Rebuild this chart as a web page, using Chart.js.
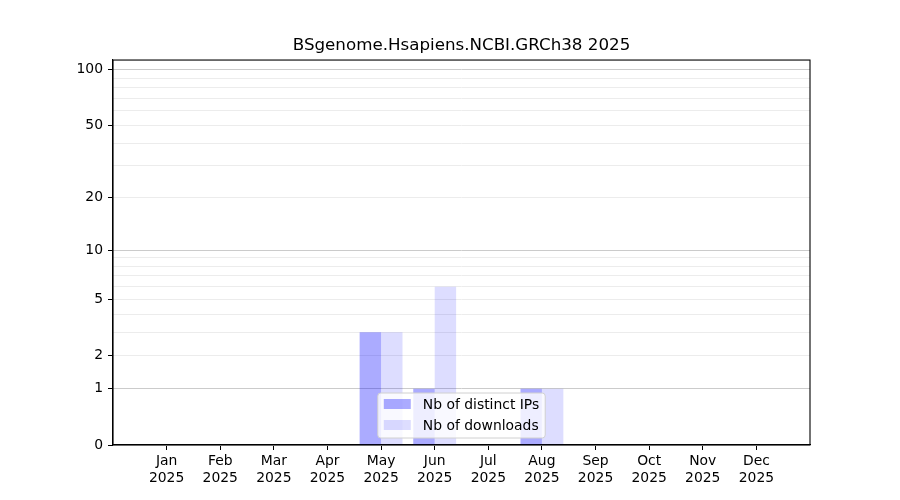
<!DOCTYPE html>
<html lang="en">
<head>
    <meta charset="UTF-8">
    <title>BSgenome.Hsapiens.NCBI.GRCh38 2025</title>
    <script src="https://cdn.jsdelivr.net/npm/chart.js"></script>
    <style>
        body {
            margin: 0;
            background: #fff;
        }
        #chartBox {
            width: 900px;
            height: 500px;
        }
    </style>
</head>
<body>
    <div id="chartBox">
        <canvas id="statsChart" width="900" height="500"></canvas>
    </div>

    <script>
        // Data
        const months = ['Jan', 'Feb', 'Mar', 'Apr', 'May', 'Jun', 'Jul', 'Aug', 'Sep', 'Oct', 'Nov', 'Dec'];
        const year = '2025';
        const distinctIps = [0, 0, 0, 0, 3, 1, 0, 1, 0, 0, 0, 0];
        const downloads = [0, 0, 0, 0, 3, 6, 0, 1, 0, 0, 0, 0];

        // Tick values on the y axis (log(1 + y) scale)
        const yTickValues = [0, 1, 2, 3, 4, 5, 6, 7, 8, 9, 10, 20, 30, 40, 50, 60, 70, 80, 90, 100];
        const yLabelled = [0, 1, 2, 5, 10, 20, 50, 100];
        const yMajorGrid = [1, 10, 100];
        const yMax = 113;

        const chartTitle = 'BSgenome.Hsapiens.NCBI.GRCh38 2025';
        const legendLabels = ['Nb of distinct IPs', 'Nb of downloads'];
        const barColors = ['rgba(0,0,255,0.33)', 'rgba(0,0,255,0.135)'];

        Chart.defaults.font.family = "'DejaVu Sans', sans-serif";
        Chart.defaults.color = '#000';

        // Scale showing log10(1 + y), like matplotlib's symlog axis here
        class Log1pScale extends Chart.LinearScale {
            buildTicks() {
                return yTickValues.map(v => ({ value: v }));
            }
            configure() {
                super.configure();
                this._tStart = Math.log10(this.min + 1);
                this._tRange = Math.log10(this.max + 1) - this._tStart;
            }
            getPixelForValue(value) {
                if (value === null || value === undefined || isNaN(value)) return NaN;
                return this.getPixelForDecimal((Math.log10(value + 1) - this._tStart) / this._tRange);
            }
            getValueForPixel(pixel) {
                return Math.pow(10, this._tStart + this.getDecimalForPixel(pixel) * this._tRange) - 1;
            }
        }
        Log1pScale.id = 'log1p';
        Log1pScale.defaults = {};
        Chart.register(Log1pScale);

        // Box around the plot area, and the legend inside it
        const framePlugin = {
            id: 'frame',
            afterDraw(chart) {
                const a = chart.chartArea;
                const c = chart.ctx;
                c.save();
                c.strokeStyle = '#000';
                c.lineWidth = 1.1;
                c.strokeRect(a.left, a.top, a.right - a.left, a.bottom - a.top);

                // legend, lower center
                c.font = "13.9px 'DejaVu Sans', sans-serif";
                const textW = Math.max(...legendLabels.map(t => c.measureText(t).width));
                const w = 6 + 27 + 12 + textW + 6;
                const h = 45;
                const x = (a.left + a.right) / 2 - w / 2;
                const y = a.bottom - 7 - h;
                c.beginPath();
                c.roundRect(x, y, w, h, 3);
                c.fillStyle = 'rgba(255,255,255,0.8)';
                c.fill();
                c.strokeStyle = '#d0d0d0';
                c.lineWidth = 1;
                c.stroke();
                legendLabels.forEach((label, i) => {
                    const rowY = y + 11 + i * 21;
                    c.fillStyle = barColors[i];
                    c.fillRect(x + 6, rowY - 5, 27, 10);
                    c.fillStyle = '#000';
                    c.textBaseline = 'middle';
                    c.textAlign = 'left';
                    c.fillText(label, x + 45, rowY + 1);
                });
                c.restore();
            }
        };

        const ctx = document.getElementById('statsChart').getContext('2d');
        const statsChart = new Chart(ctx, {
            type: 'bar',
            data: {
                datasets: [
                    {
                        label: legendLabels[0],
                        data: distinctIps.map((v, i) => ({ x: i, y: v })),
                        backgroundColor: barColors[0],
                        borderWidth: 0,
                    },
                    {
                        label: legendLabels[1],
                        data: downloads.map((v, i) => ({ x: i, y: v })),
                        backgroundColor: barColors[1],
                        borderWidth: 0,
                    }
                ]
            },
            options: {
                responsive: false,
                animation: false,
                devicePixelRatio: 1,
                categoryPercentage: 0.8,
                barPercentage: 1.0,
                layout: {
                    padding: { left: 0, right: 90, top: 0, bottom: 0 }
                },
                plugins: {
                    legend: { display: false },
                    tooltip: { enabled: false },
                    title: {
                        display: true,
                        text: chartTitle,
                        fullSize: false,
                        color: '#000',
                        font: { size: 16.7, weight: 'normal' },
                        padding: { top: 36, bottom: 4 }
                    }
                },
                scales: {
                    x: {
                        type: 'linear',
                        min: -1,
                        max: 12,
                        offset: false,
                        afterBuildTicks: axis => {
                            axis.ticks = months.map((m, i) => ({ value: i }));
                        },
                        afterFit: axis => { axis.height = 55; },
                        grid: {
                            offset: false,
                            drawOnChartArea: false,
                            tickLength: 5,
                            tickColor: '#000',
                        },
                        border: { display: true, color: '#000', width: 1.1 },
                        ticks: {
                            autoSkip: false,
                            maxRotation: 0,
                            padding: 3,
                            color: '#000',
                            font: { size: 13.9 },
                            callback: value => [months[value], year]
                        }
                    },
                    y: {
                        type: 'log1p',
                        min: 0,
                        max: yMax,
                        z: 1,
                        afterFit: axis => { axis.width = 113; },
                        grid: {
                            tickLength: 5,
                            color: c => (c.tick && yMajorGrid.includes(c.tick.value)) ? '#cbcbcb' : '#ececec',
                            tickColor: c => (c.tick && yLabelled.includes(c.tick.value)) ? '#000' : 'rgba(0,0,0,0)',
                            lineWidth: 1,
                        },
                        border: { display: true, color: '#000', width: 1.1 },
                        ticks: {
                            autoSkip: false,
                            padding: 5,
                            color: '#000',
                            font: { size: 13.9 },
                            callback: value => yLabelled.includes(value) ? String(value) : ''
                        }
                    }
                }
            },
            plugins: [framePlugin]
        });
    </script>
</body>
</html>
